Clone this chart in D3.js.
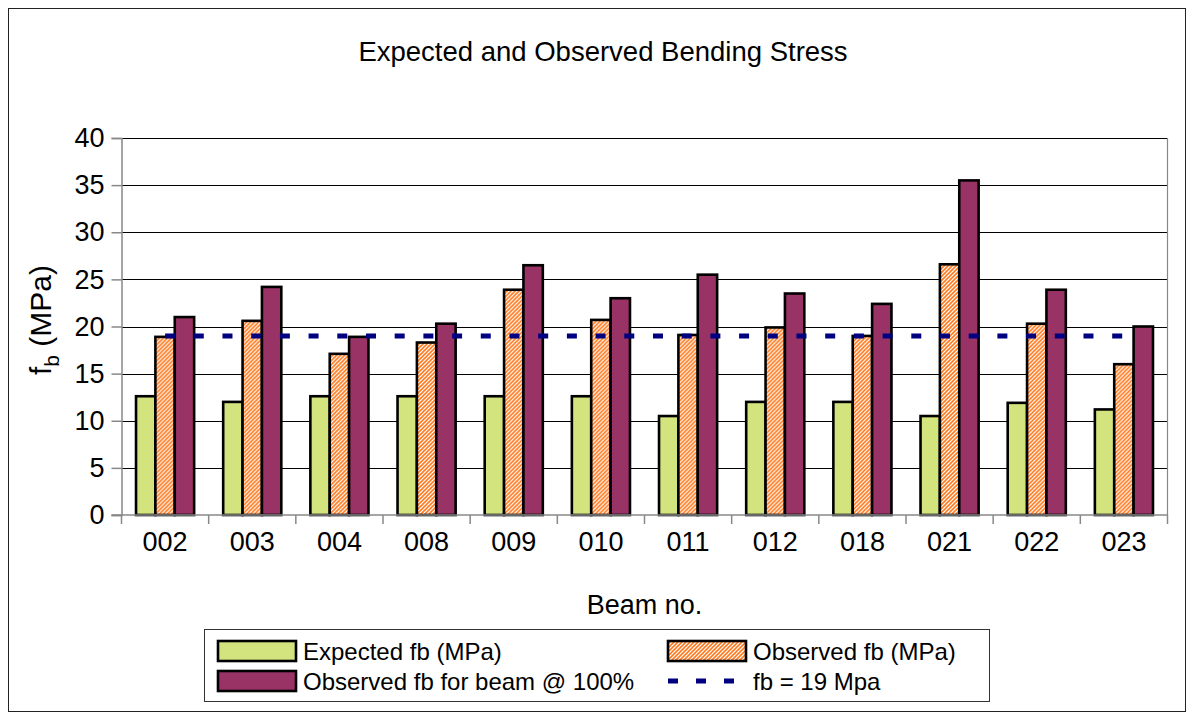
<!DOCTYPE html>
<html>
<head>
<meta charset="utf-8">
<script src="https://cdn.jsdelivr.net/npm/d3@7/dist/d3.min.js"></script>
<style>
  html, body { margin: 0; padding: 0; background: #fff; }
  svg text { font-family: "Liberation Sans", Arial, sans-serif; fill: #000; }
</style>
</head>
<body>
<svg id="chart" width="1194" height="720"></svg>
<script>
// Beam identifiers along the category axis
const beams = ["002", "003", "004", "008", "009", "010", "011", "012", "018", "021", "022", "023"];

// Bending stress per beam (MPa)
const expectedFb = [12.6, 12.0, 12.6, 12.6, 12.6, 12.6, 10.5, 12.0, 12.0, 10.5, 11.9, 11.2];
const observedFb = [18.9, 20.6, 17.1, 18.3, 23.9, 20.7, 19.1, 19.9, 19.0, 26.6, 20.3, 16.0];
const observedFull = [21.0, 24.2, 18.9, 20.3, 26.5, 23.0, 25.5, 23.5, 22.4, 35.5, 23.9, 20.0];

// Reference stress level drawn as a dashed line
const referenceFb = 19;

// Value axis ticks
const yTicks = [0, 5, 10, 15, 20, 25, 30, 35, 40];

const seriesNames = ["Expected fb (MPa)", "Observed fb (MPa)", "Observed fb for beam @ 100%"];
const seriesValues = [expectedFb, observedFb, observedFull];

const svg = d3.select("#chart");

// Fill patterns
const defs = svg.append("defs");
const hatch = defs.append("pattern")
  .attr("id", "hatch")
  .attr("patternUnits", "userSpaceOnUse")
  .attr("width", 4).attr("height", 4);
hatch.append("rect").attr("width", 4).attr("height", 4).attr("fill", "#fff");
hatch.append("path")
  .attr("d", "M-1,1 l2,-2 M0,4 l4,-4 M3,5 l2,-2")
  .attr("stroke", "#ff7a1f").attr("stroke-width", 1.6);

const fills = ["#d3e47f", "url(#hatch)", "#993366"];

// Outer chart frame
svg.append("rect")
  .attr("x", 8.5).attr("y", 8.5)
  .attr("width", 1177).attr("height", 703)
  .attr("fill", "#fff").attr("stroke", "#222").attr("stroke-width", 1);

// Title
svg.append("text")
  .attr("x", 603).attr("y", 61)
  .attr("text-anchor", "middle")
  .style("font-size", "27.5px")
  .text("Expected and Observed Bending Stress");

// Plot area
const plot = { left: 121.5, right: 1167.5, top: 138, bottom: 515 };

const x0 = d3.scaleBand()
  .domain(beams)
  .range([plot.left, plot.right])
  .padding(0);

const x1 = d3.scaleBand()
  .domain(d3.range(seriesNames.length))
  .range([0, x0.bandwidth()])
  .paddingInner(0)
  .paddingOuter(0.75);

const y = d3.scaleLinear()
  .domain([0, 40])
  .range([plot.bottom, plot.top]);

// Horizontal gridlines
svg.append("g")
  .selectAll("line")
  .data(yTicks.slice(1))
  .join("line")
  .attr("x1", plot.left).attr("x2", plot.right)
  .attr("y1", d => Math.round(y(d)) + 0.5)
  .attr("y2", d => Math.round(y(d)) + 0.5)
  .attr("stroke", "#000").attr("stroke-width", 1);

// Right edge of the plot area
svg.append("line")
  .attr("x1", plot.right).attr("x2", plot.right)
  .attr("y1", plot.top).attr("y2", plot.bottom)
  .attr("stroke", "#888").attr("stroke-width", 1.2);

// Bars
const groups = svg.append("g")
  .selectAll("g")
  .data(beams)
  .join("g")
  .attr("transform", d => `translate(${x0(d)},0)`);

groups.selectAll("rect")
  .data((d, i) => seriesValues.map((vals, s) => ({ s, v: vals[i] })))
  .join("rect")
  .attr("x", d => x1(d.s))
  .attr("y", d => y(d.v))
  .attr("width", x1.bandwidth())
  .attr("height", d => y(0) - y(d.v))
  .attr("fill", d => fills[d.s])
  .attr("stroke", "#000")
  .attr("stroke-width", 2.6);

// Y axis
const yAxis = d3.axisLeft(y)
  .tickValues(yTicks)
  .tickSize(10)
  .tickPadding(7)
  .tickFormat(d3.format("d"));

const gy = svg.append("g")
  .attr("transform", `translate(${plot.left},0)`)
  .call(yAxis);
gy.select(".domain").attr("stroke", "#888").attr("stroke-width", 1.5);
gy.selectAll(".tick line").attr("stroke", "#888").attr("stroke-width", 1.5);
gy.selectAll(".tick text")
  .style("font-size", "27px")
  .style("font-family", "'Liberation Sans', Arial, sans-serif");

// X axis: ticks on category boundaries, labels centred on each group
const xAxisG = svg.append("g");
xAxisG.append("line")
  .attr("x1", plot.left - 10).attr("x2", plot.right)
  .attr("y1", plot.bottom).attr("y2", plot.bottom)
  .attr("stroke", "#888").attr("stroke-width", 1.5);
xAxisG.selectAll("line.tk")
  .data(beams.map(b => x0(b)).concat([plot.right]))
  .join("line")
  .attr("class", "tk")
  .attr("x1", d => d).attr("x2", d => d)
  .attr("y1", plot.bottom).attr("y2", plot.bottom + 9)
  .attr("stroke", "#888").attr("stroke-width", 1.5);
xAxisG.selectAll("text")
  .data(beams)
  .join("text")
  .attr("x", d => x0(d) + x0.bandwidth() / 2)
  .attr("y", 551)
  .attr("text-anchor", "middle")
  .style("font-size", "27px")
  .text(d => d);

// Reference line through the category centres
const refLine = d3.line()
  .x(d => x0(d) + x0.bandwidth() / 2)
  .y(() => y(referenceFb));
svg.append("path")
  .datum(beams)
  .attr("d", refLine)
  .attr("fill", "none")
  .attr("stroke", "#000080")
  .attr("stroke-width", 5)
  .attr("stroke-dasharray", "10,18.7");

// Axis titles
svg.append("text")
  .attr("x", 644.5).attr("y", 614)
  .attr("text-anchor", "middle")
  .style("font-size", "27px")
  .text("Beam no.");

const yTitle = svg.append("text")
  .attr("transform", "translate(51,320) rotate(-90)")
  .attr("text-anchor", "middle")
  .style("font-size", "30px");
yTitle.append("tspan").text("f");
yTitle.append("tspan").attr("dy", 8).style("font-size", "21px").text("b");
yTitle.append("tspan").attr("dy", -8).text(" (MPa)");

// Legend
const legend = svg.append("g");
legend.append("rect")
  .attr("x", 204.5).attr("y", 629.5)
  .attr("width", 785).attr("height", 72)
  .attr("fill", "#fff").attr("stroke", "#333").attr("stroke-width", 1);

const legendItems = [
  { name: seriesNames[0], kind: "bar", s: 0, x: 218, yc: 651 },
  { name: seriesNames[1], kind: "bar", s: 1, x: 668, yc: 651 },
  { name: seriesNames[2], kind: "bar", s: 2, x: 218, yc: 681 },
  { name: "fb = " + referenceFb + " Mpa", kind: "line", x: 668, yc: 681 }
];

legendItems.forEach(it => {
  if (it.kind === "bar") {
    legend.append("rect")
      .attr("x", it.x).attr("y", it.yc - 10)
      .attr("width", 78).attr("height", 20)
      .attr("fill", fills[it.s])
      .attr("stroke", "#000").attr("stroke-width", 2.6);
  } else {
    legend.append("line")
      .attr("x1", it.x).attr("x2", it.x + 66)
      .attr("y1", it.yc).attr("y2", it.yc)
      .attr("stroke", "#000080").attr("stroke-width", 5)
      .attr("stroke-dasharray", "10,18");
  }
  legend.append("text")
    .attr("x", it.x + 85).attr("y", it.yc + 8.5)
    .style("font-size", "24px")
    .text(it.name);
});
</script>
</body>
</html>
